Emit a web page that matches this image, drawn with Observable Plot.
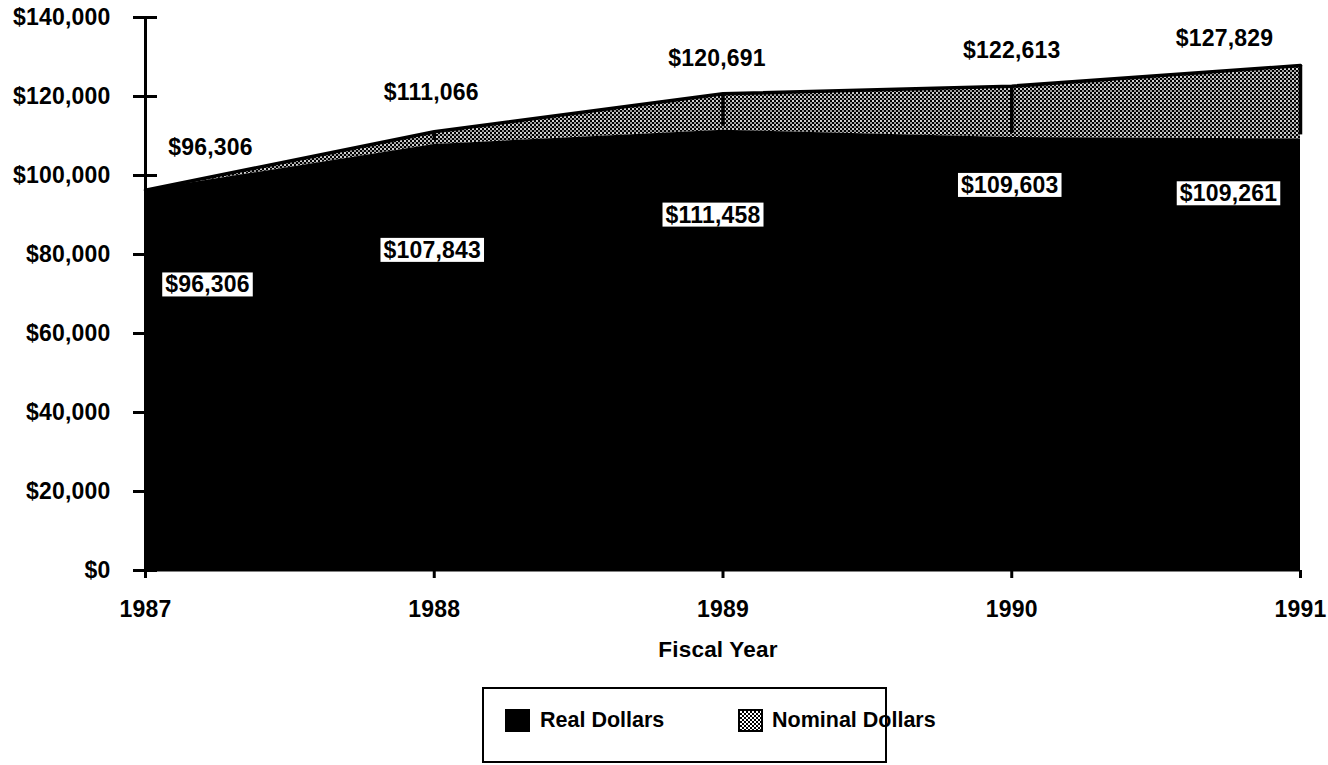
<!DOCTYPE html>
<html><head><meta charset="utf-8">
<script src="https://cdn.jsdelivr.net/npm/d3@7"></script>
<script src="https://cdn.jsdelivr.net/npm/@observablehq/plot@0.6"></script>
<style>
body{margin:0;background:#fff;font-family:"Liberation Sans",Arial,Helvetica,sans-serif;}
#legend{position:relative;box-sizing:border-box;width:405px;height:76px;margin-left:482px;margin-top:7px;border:2px solid #000;font-weight:bold;font-size:21.5px;color:#000;}
#legend .sw{position:absolute;top:20px;width:25px;height:23px;box-sizing:border-box;}
#legend .lb{position:absolute;top:20px;line-height:23px;white-space:nowrap;}
</style></head>
<body>
<div id="chart"></div>
<div id="legend"></div>
<script>
// ---- data ----
const years = [1987, 1988, 1989, 1990, 1991];
const nominalDollars = [96306, 111066, 120691, 122613, 127829];
const realDollars = [96306, 107843, 111458, 109603, 109261];
const yTicks = [0, 20000, 40000, 60000, 80000, 100000, 120000, 140000];
const seriesNames = ["Real Dollars", "Nominal Dollars"];
const xTitle = "Fiscal Year";

// ---- label layout (pixel offsets) ----
const nominalLabelDx = [65, -3, -6, 0, -76];
const nominalLabelDy = [-42, -39, -35, -36, -27];
const realLabelDx = [62, -2, -10, -2, -72];
const realLabelDy = [95, 106, 85, 48, 55];

const data = years.map((year, i) => ({year, nominal: nominalDollars[i], real: realDollars[i]}));
const money = d => "$" + d3.format(",")(d);

const nominalLabels = data.map((d, i) => Plot.text([d], {
  x: "year", y: "nominal", text: r => money(r.nominal),
  dx: nominalLabelDx[i], dy: nominalLabelDy[i], fill: "black"
}));
const realLabels = data.map((d, i) => Plot.text([d], {
  x: "year", y: "real", text: r => money(r.real),
  dx: realLabelDx[i], dy: realLabelDy[i], fill: "black"
}));

const svg = Plot.plot({
  width: 1328,
  height: 680,
  marginLeft: 145,
  marginRight: 28,
  marginTop: 17,
  marginBottom: 110,
  style: {fontFamily: "'Liberation Sans', Arial, Helvetica, sans-serif", fontSize: "23px", fontWeight: "bold", letterSpacing: "0.2px", color: "black", background: "white"},
  x: {type: "linear", domain: [years[0], years[years.length - 1]]},
  y: {domain: [yTicks[0], yTicks[yTicks.length - 1]]},
  marks: [
    Plot.areaY(data, {x: "year", y1: "real", y2: "nominal", fill: "url(#hatch)"}),
    Plot.areaY(data, {x: "year", y1: 0, y2: "real", fill: "black"}),
    Plot.line(data, {x: "year", y: "nominal", stroke: "black", strokeWidth: 3.5}),
    Plot.ruleX(data.slice(1), {x: "year", y1: "real", y2: "nominal", stroke: "black", strokeWidth: 3.5, insetTop: -4}),
    Plot.ruleX([years[0]], {y1: yTicks[0], y2: yTicks[yTicks.length - 1], stroke: "black", strokeWidth: 3}),
    Plot.ruleY([0], {x1: years[0], x2: years[years.length - 1], stroke: "black", strokeWidth: 2}),
    Plot.ruleY(yTicks, {x1: years[0], x2: years[0], insetLeft: -12, insetRight: -12, stroke: "black", strokeWidth: 3}),
    Plot.axisY({ticks: yTicks, tickSize: 0, tickPadding: 35, tickFormat: money, label: null}),
    Plot.axisX({ticks: years, tickSize: 8, tickPadding: 22, tickFormat: d => String(d), strokeWidth: 3, label: null}),
    Plot.text([xTitle], {frameAnchor: "bottom", dy: 86, dx: -5, fontSize: 22.5, fill: "black"}),
    ...nominalLabels,
    ...realLabels
  ]
});

// pattern for the nominal band
const defs = d3.select(svg).insert("defs", ":first-child");
const pat = defs.append("pattern").attr("id", "hatch").attr("patternUnits", "userSpaceOnUse").attr("width", 4).attr("height", 4);
pat.append("rect").attr("width", 4).attr("height", 4).attr("fill", "black");
pat.append("rect").attr("x", 0).attr("y", 0).attr("width", 2).attr("height", 2).attr("fill", "#d0d0d0");
pat.append("rect").attr("x", 2).attr("y", 2).attr("width", 2).attr("height", 2).attr("fill", "#9a9a9a");

document.getElementById("chart").appendChild(svg);

// white boxes behind real-dollar labels (the last text groups drawn)
const groups = Array.from(svg.children).filter(n => n.tagName.toLowerCase() === "g").slice(-realLabels.length);
groups.forEach(g => {
  d3.select(g).selectAll("text").each(function() {
    const b = this.getBBox();
    const node = this;
    d3.select(g).insert("rect", () => node)
      .attr("transform", this.getAttribute("transform"))
      .attr("x", b.x - 3).attr("y", b.y + 1).attr("width", b.width + 6).attr("height", b.height - 2)
      .attr("fill", "white");
  });
});

// legend
const legend = d3.select("#legend");
const swatchLeft = [21, 254];
const labelLeft = [56, 288];
seriesNames.forEach((name, i) => {
  const sw = legend.append("div").attr("class", "sw").style("left", swatchLeft[i] + "px");
  if (i === 0) sw.style("background", "#000");
  else sw.style("border", "2px solid #000").style("background", "repeating-conic-gradient(#000 0% 25%, #fff 0% 50%) 0 0 / 4px 4px");
  legend.append("div").attr("class", "lb").style("left", labelLeft[i] + "px").text(name);
});
</script>
</body></html>
